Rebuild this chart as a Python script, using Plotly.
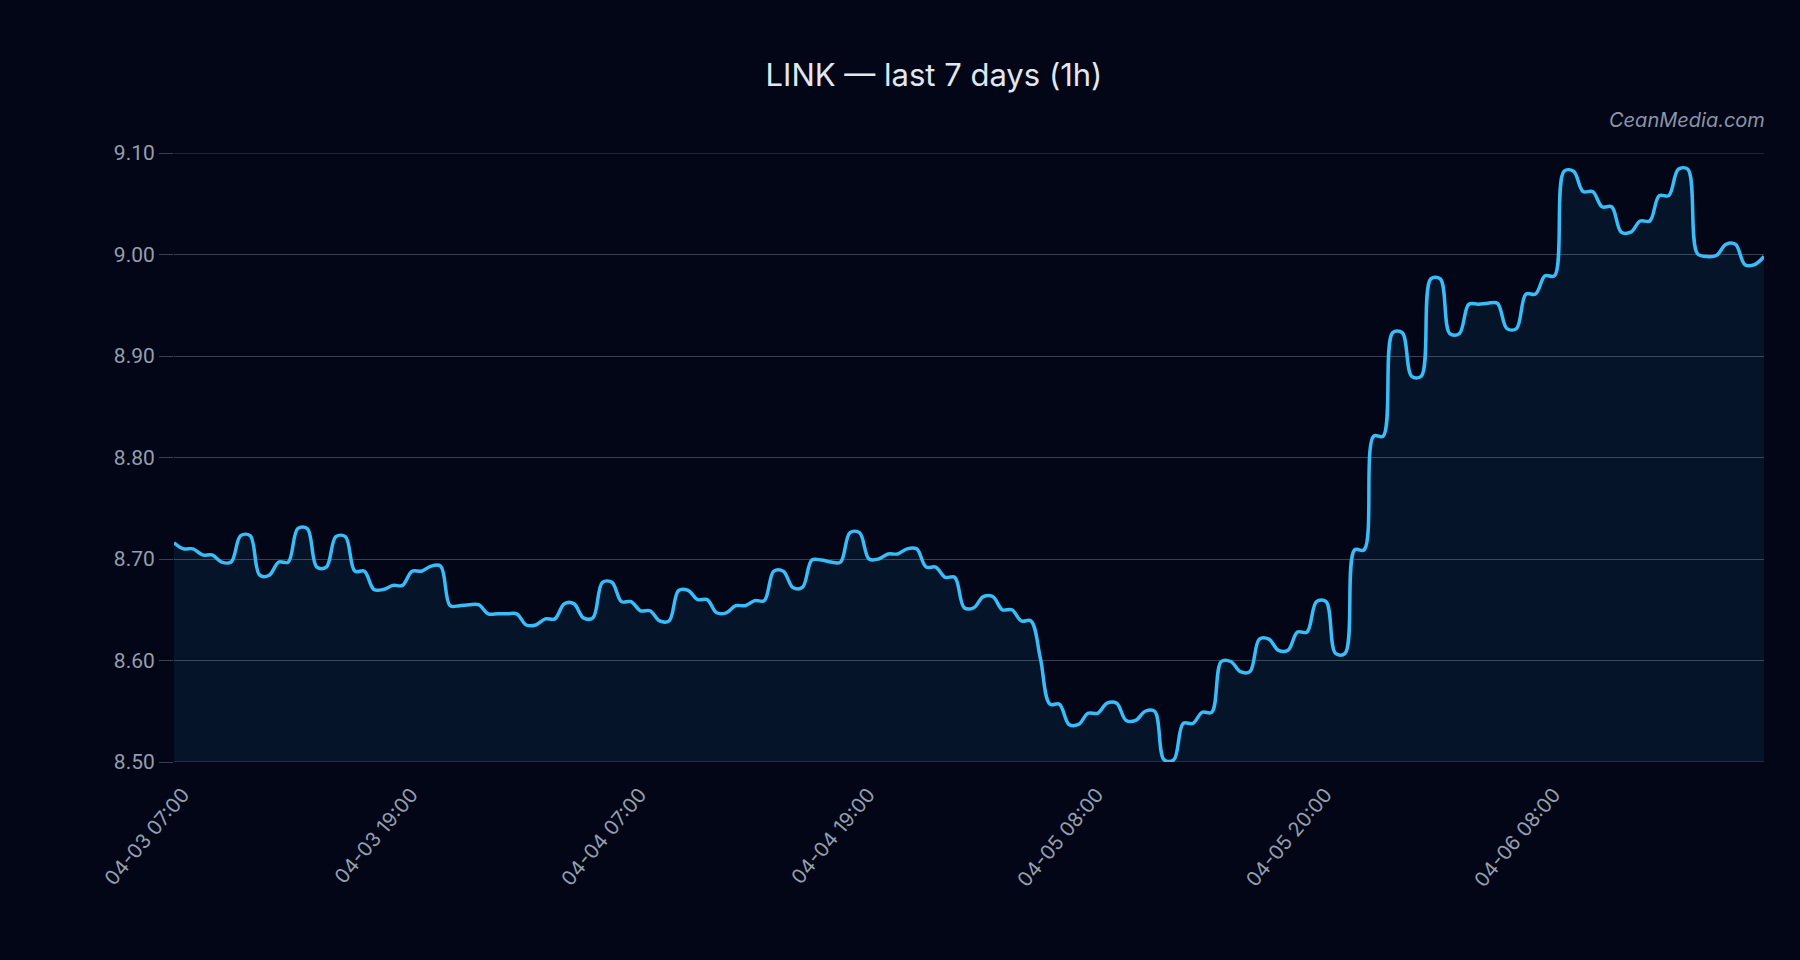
import plotly.graph_objects as go

# Price samples (168 samples, left to right)
PRICES = [
    8.716,
    8.710, 8.710, 8.704, 8.704, 8.697, 8.697, 8.723, 8.723, 8.684, 8.684,
    8.697, 8.697, 8.730, 8.730, 8.692, 8.692, 8.722, 8.722, 8.688, 8.688,
    8.670, 8.670, 8.674, 8.674, 8.688, 8.688, 8.693, 8.693, 8.654, 8.654,
    8.655, 8.655, 8.646, 8.646, 8.646, 8.646, 8.635, 8.635, 8.641, 8.641,
    8.656, 8.656, 8.642, 8.642, 8.677, 8.677, 8.658, 8.658, 8.649, 8.649,
    8.639, 8.639, 8.669, 8.669, 8.660, 8.660, 8.647, 8.647, 8.654, 8.654,
    8.659, 8.659, 8.688, 8.688, 8.672, 8.672, 8.699, 8.699, 8.697, 8.697,
    8.726, 8.726, 8.700, 8.700, 8.705, 8.705, 8.710, 8.710, 8.692, 8.692,
    8.682, 8.682, 8.652, 8.652, 8.663, 8.663, 8.650, 8.650, 8.639, 8.639,
    8.602,
    8.557, 8.557, 8.537, 8.537, 8.548, 8.548, 8.558, 8.558, 8.541, 8.541,
    8.550, 8.550, 8.502, 8.502, 8.538, 8.538, 8.549, 8.549, 8.599, 8.599,
    8.589, 8.589, 8.621, 8.621, 8.610, 8.610, 8.628, 8.628, 8.658, 8.658,
    8.607, 8.607, 8.709, 8.709, 8.821, 8.821, 8.923, 8.923, 8.880, 8.880,
    8.976, 8.976, 8.922, 8.922, 8.951, 8.951, 8.952, 8.952, 8.927, 8.927,
    8.961, 8.961, 8.979, 8.979, 9.082, 9.082, 9.062, 9.062, 9.047, 9.047,
    9.022, 9.022, 9.033, 9.033, 9.058, 9.058, 9.084, 9.084,
    9.001, 8.998, 8.999,
    9.010, 9.010, 8.990, 8.990,
    8.998,
]

TICK_LABELS = ["04-03 07:00", "04-03 19:00", "04-04 07:00", "04-04 19:00",
               "04-05 08:00", "04-05 20:00", "04-06 08:00"]
TICK_EVERY = 24

Y_MIN, Y_MAX = 8.50, 9.10
Y_TICKS = [8.50, 8.60, 8.70, 8.80, 8.90, 9.00, 9.10]

BG = "#020617"
LINE = "#38bdf8"
GRID = "#384152"
TICKFONT = "#959eae"
FONT = "Inter, Roboto, sans-serif"
NUM_FONT = "Roboto, Inter, sans-serif"

x_idx = list(range(len(PRICES)))
tickvals = [i * TICK_EVERY for i in range(len(TICK_LABELS))]

fig = go.Figure()
fig.add_trace(go.Scatter(
    x=x_idx, y=PRICES, mode="lines",
    line=dict(color=LINE, width=3.5, shape="spline", smoothing=1),
    fill="tozeroy", fillcolor="rgba(56,189,248,0.08)",
    hoverinfo="skip", showlegend=False,
))

# gridlines at the range edges (plotly hides these by default)
edge_lines = [
    dict(type="line", xref="paper", x0=0, x1=1, yref="y", y0=v, y1=v,
         line=dict(color=GRID, width=1.2), layer="below")
    for v in (Y_MIN, Y_MAX)
]

fig.update_layout(
    width=1800, height=960,
    paper_bgcolor=BG, plot_bgcolor=BG,
    margin=dict(l=174, r=36, t=153, b=198),
    font=dict(family=FONT, color=TICKFONT),
    title=dict(
        text="LINK — last 7 days (1h)",
        x=934 / 1800, xref="container", xanchor="center",
        y=1 - 75 / 960, yref="container", yanchor="middle",
        font=dict(family=FONT, size=31, color="#e2e8f0"),
    ),
    xaxis=dict(
        range=[0, len(PRICES) - 1],
        tickmode="array", tickvals=tickvals, ticktext=TICK_LABELS,
        tickangle=-50, showgrid=False, zeroline=False, showline=False,
        ticks="", ticklabelstandoff=16, ticklabelshift=9,
        tickfont=dict(size=20, color=TICKFONT, family=FONT),
    ),
    yaxis=dict(
        range=[Y_MIN, Y_MAX], tickmode="array", tickvals=Y_TICKS,
        ticktext=[f"{v:.2f}" for v in Y_TICKS],
        showgrid=True, gridcolor=GRID, gridwidth=1.2,
        zeroline=False, showline=False,
        ticks="outside", ticklen=14, tickcolor=GRID, tickwidth=1.2,
        tickfont=dict(size=21, color=TICKFONT, family=NUM_FONT),
    ),
    shapes=edge_lines,
    annotations=[dict(
        text="CeanMedia.com", xref="paper", yref="paper",
        x=1.002, y=1 + 33 / 609, xanchor="right", yanchor="middle",
        showarrow=False,
        font=dict(family=FONT, size=20, color="#8b95a7", style="italic"),
    )],
)

fig.write_html("out.html")
